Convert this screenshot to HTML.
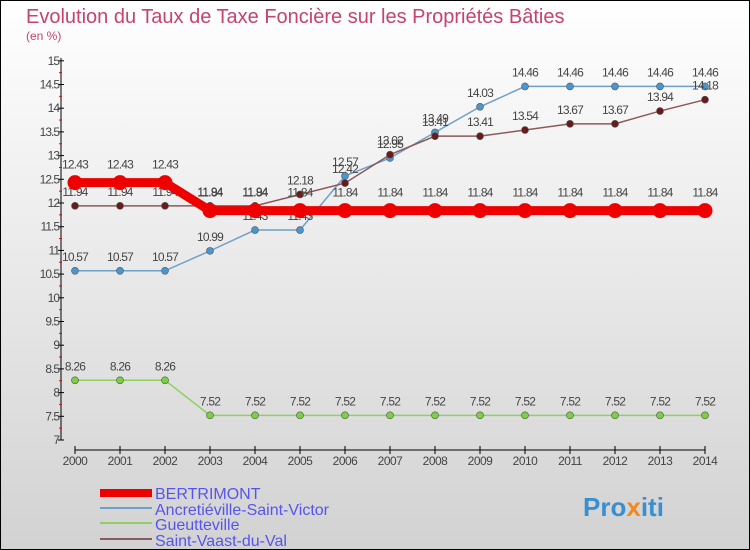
<!DOCTYPE html>
<html><head><meta charset="utf-8"><style>
body{margin:0}
#c{width:750px;height:550px;position:relative;overflow:hidden;font-family:"Liberation Sans",sans-serif}
</style></head><body>
<div id="c">
<svg id="s" width="750" height="550" xmlns="http://www.w3.org/2000/svg">
<defs><linearGradient id="bg" x1="0" y1="0" x2="0" y2="1"><stop offset="0" stop-color="#ffffff"/><stop offset="1" stop-color="#d2d2d2"/></linearGradient></defs>
<rect x="0.5" y="0.5" width="749" height="549" fill="url(#bg)" stroke="#000"/>
<text x="26" y="23" font-size="20" fill="#c8426e">Evolution du Taux de Taxe Foncière sur les Propriétés Bâties</text>
<text x="26" y="40" font-size="12" fill="#c8426e">(en %)</text>
<g id="axes"></g><g id="series"></g>
<g>
<rect x="100" y="489" width="52" height="8" fill="#ee0000"/>
<text x="155" y="499" font-size="16" fill="#5555ee">BERTRIMONT</text>
<rect x="100" y="507" width="52" height="2" fill="#6fa0c8"/>
<text x="155" y="515" font-size="16" fill="#5555ee">Ancretiéville-Saint-Victor</text>
<rect x="100" y="522" width="52" height="2" fill="#8fd060"/>
<text x="155" y="530" font-size="16" fill="#5555ee">Gueutteville</text>
<rect x="100" y="538" width="52" height="2" fill="#8a5a5a"/>
<text x="155" y="546" font-size="16" fill="#5555ee">Saint-Vaast-du-Val</text>
</g>
<text x="583" y="516" font-size="26" font-weight="bold" fill="#3a8fd0">Pro<tspan fill="#f08a20">x</tspan>iti</text>
</svg>
</div>
<script>
const years=[2000,2001,2002,2003,2004,2005,2006,2007,2008,2009,2010,2011,2012,2013,2014];
const yTicks=[7,7.5,8,8.5,9,9.5,10,10.5,11,11.5,12,12.5,13,13.5,14,14.5,15];
const bertrimont=[12.43,12.43,12.43,11.84,11.84,11.84,11.84,11.84,11.84,11.84,11.84,11.84,11.84,11.84,11.84];
const ancretieville=[10.57,10.57,10.57,10.99,11.43,11.43,12.57,12.95,13.49,14.03,14.46,14.46,14.46,14.46,14.46];
const gueutteville=[8.26,8.26,8.26,7.52,7.52,7.52,7.52,7.52,7.52,7.52,7.52,7.52,7.52,7.52,7.52];
const saintVaast=[11.94,11.94,11.94,11.94,11.94,12.18,12.42,13.02,13.41,13.41,13.54,13.67,13.67,13.94,14.18];
const NS="http://www.w3.org/2000/svg";
const X=i=>75+i*45, Y=v=>440-(v-7)*47.4;
function mk(t,a,p){const e=document.createElementNS(NS,t);for(const k in a)e.setAttribute(k,a[k]);p.appendChild(e);return e;}
const ax=document.getElementById('axes');
let l=mk('line',{x1:61,y1:58,x2:61,y2:440,stroke:'#000'},ax);


l=mk('line',{x1:75,y1:450,x2:705,y2:450,stroke:'#000'},ax);


yTicks.forEach((v,i)=>{
 mk('line',{x1:58,y1:Y(v),x2:64,y2:Y(v),stroke:'#000'},ax);
 if(i<yTicks.length-1)mk('line',{x1:59,y1:Y(v+0.25),x2:62,y2:Y(v+0.25),stroke:'#e00'},ax);
 const t=mk('text',{x:59,y:Y(v)+4,'font-size':12,'text-anchor':'end',fill:'#444','letter-spacing':'-1'},ax);
 t.textContent=String(v);
 
 
});
years.forEach((y,i)=>{
 mk('line',{x1:X(i),y1:446,x2:X(i),y2:454,stroke:'#000'},ax);
 const t=mk('text',{x:X(i),y:465,'font-size':12,'text-anchor':'middle',fill:'#444','letter-spacing':'-0.5'},ax);
 t.textContent=String(y);
 
 
});
const sg=document.getElementById('series');
function series(data,name,color,dot,w,r,labelDy){
 const g=mk('g',{},sg);
 
 
 const pl=mk('polyline',{points:data.map((v,i)=>X(i)+','+Y(v)).join(' '),fill:'none',stroke:color,'stroke-width':w},g);
 
 
 data.forEach((v,i)=>{
  const c=mk('circle',{cx:X(i),cy:Y(v),r:r,fill:dot,stroke:'#555','stroke-width':r>5?0:0.6},g);
  
  
  const t=mk('text',{x:X(i),y:Y(v)+labelDy,'font-size':12,'text-anchor':'middle',fill:'#444','letter-spacing':'-0.8'},g);
  t.textContent=v.toFixed(2).replace(/0$/,'').replace(/\.$/,'');
  
  
 });
}
series(gueutteville,'gueutteville','#8fd060','#7cd040',1.5,3.5,-10);
series(ancretieville,'ancretieville','#6fa0c8','#4c96d0',1.5,3.5,-10);
series(saintVaast,'saint-vaast','#8a5a5a','#6a1a1a',1.5,3.5,-10);
series(bertrimont,'bertrimont','#ee0000','#ee0000',9,7.5,-14);
</script>
</body></html>
